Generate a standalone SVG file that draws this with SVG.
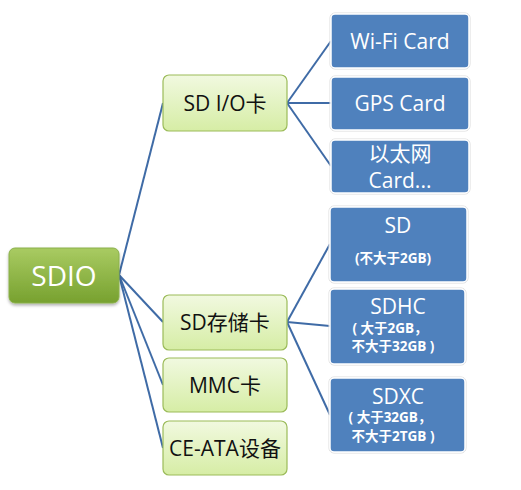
<svg xmlns="http://www.w3.org/2000/svg" width="521" height="490" viewBox="0 0 521 490">
<defs>
<linearGradient id="gRoot" x1="0" y1="0" x2="0" y2="1">
<stop offset="0" stop-color="#a9cb62"/>
<stop offset="1" stop-color="#77a12f"/>
</linearGradient>
<linearGradient id="gMid" x1="0" y1="0" x2="0" y2="1">
<stop offset="0" stop-color="#f1f9e0"/>
<stop offset="1" stop-color="#d6eda5"/>
</linearGradient>
<filter id="sh" x="-10%" y="-10%" width="130%" height="140%">
<feDropShadow dx="0" dy="2" stdDeviation="1.5" flood-color="#000" flood-opacity="0.3"/>
</filter>
</defs>
<style>
.root{fill:url(#gRoot);stroke:#8ab04a;stroke-width:1;filter:url(#sh)}
.mid{fill:url(#gMid);stroke:#9bbb59;stroke-width:1.2}
.leaf{fill:#4f81bd;stroke:#ffffff;stroke-width:1.5}
.leafo{fill:none;stroke:#dcdcdc;stroke-width:1}
text{font-family:"Open Sans","Liberation Sans","Noto Sans CJK SC",sans-serif;text-anchor:middle;dominant-baseline:central}
.tr{fill:#ffffff;font-size:28px}
.tm{fill:#111111;font-size:21px}
.tl{fill:#ffffff;font-size:21px}
.ts{fill:#ffffff;font-size:13.5px;font-weight:bold}
.con{stroke:#3f6ba6;stroke-width:2;fill:none}
</style>
<rect x="0" y="0" width="521" height="490" fill="#ffffff"/>
<g id="connectors">
<path class="con" d="M119,275 L163,103"/>
<path class="con" d="M119,275 L163,322"/>
<path class="con" d="M119,275 L163,385"/>
<path class="con" d="M119,275 L163,448"/>
<path class="con" d="M287,103 L331,41"/>
<path class="con" d="M287,103 L331,103"/>
<path class="con" d="M287,103 L331,166"/>
<path class="con" d="M287,322 L330,244"/>
<path class="con" d="M287,322 L330,326"/>
<path class="con" d="M287,322 L330,415"/>
</g>
<g id="sdio">
<rect class="root" x="9" y="248" width="110" height="55" rx="6"/>
<text class="tr" x="64" y="275">SDIO</text>
</g>
<g id="sdio-card">
<rect class="mid" x="163" y="75" width="124" height="56" rx="6"/>
<text class="tm" x="225" y="103">SD I/O卡</text>
</g>
<g id="sd-storage">
<rect class="mid" x="163" y="295" width="124" height="55" rx="6"/>
<text class="tm" x="225" y="322">SD存储卡</text>
</g>
<g id="mmc">
<rect class="mid" x="163" y="358" width="124" height="54" rx="6"/>
<text class="tm" x="225" y="385">MMC卡</text>
</g>
<g id="ce-ata">
<rect class="mid" x="163" y="421" width="124" height="54" rx="6"/>
<text class="tm" x="225" y="448">CE-ATA设备</text>
</g>
<g id="wifi">
<rect class="leafo" x="330" y="13" width="140" height="56" rx="5"/>
<rect class="leaf" x="331" y="14" width="138" height="54" rx="4"/>
<text class="tl" x="400" y="41">Wi-Fi Card</text>
</g>
<g id="gps">
<rect class="leafo" x="330" y="76" width="140" height="55" rx="5"/>
<rect class="leaf" x="331" y="77" width="138" height="53" rx="4"/>
<text class="tl" x="400" y="103">GPS Card</text>
</g>
<g id="ethernet">
<rect class="leafo" x="330" y="139" width="140" height="55" rx="5"/>
<rect class="leaf" x="331" y="140" width="138" height="53" rx="4"/>
<text class="tl" x="400" y="153">以太网</text>
<text class="tl" x="400" y="180">Card...</text>
</g>
<g id="sd">
<rect class="leafo" x="329" y="206" width="139" height="77" rx="5"/>
<rect class="leaf" x="330" y="207" width="137" height="75" rx="4"/>
<text class="tl" x="398" y="225">SD</text>
<text class="ts" x="393" y="258">(不大于2GB)</text>
</g>
<g id="sdhc">
<rect class="leafo" x="329" y="288" width="137" height="77" rx="5"/>
<rect class="leaf" x="330" y="289" width="135" height="75" rx="4"/>
<text class="tl" x="398" y="306">SDHC</text>
<text class="ts" x="390" y="328">( 大于2GB，</text>
<text class="ts" x="393" y="346">不大于32GB )</text>
</g>
<g id="sdxc">
<rect class="leafo" x="329" y="377" width="137" height="76" rx="5"/>
<rect class="leaf" x="330" y="378" width="135" height="74" rx="4"/>
<text class="tl" x="398" y="396">SDXC</text>
<text class="ts" x="390" y="417">( 大于32GB，</text>
<text class="ts" x="393" y="436">不大于2TGB )</text>
</g>
</svg>
